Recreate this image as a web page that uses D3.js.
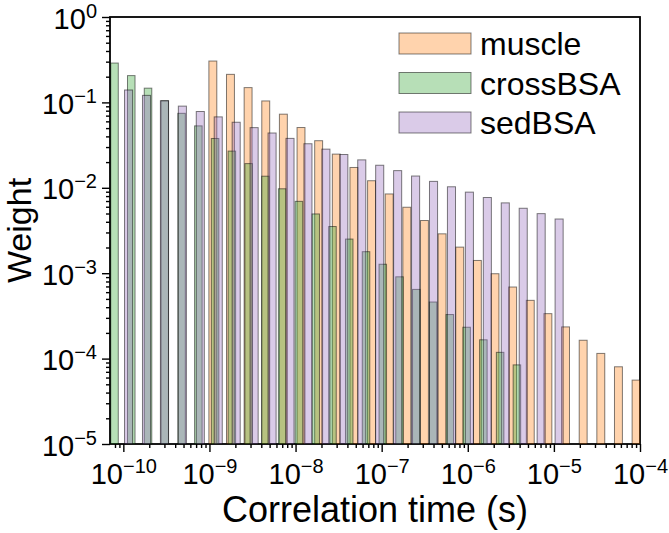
<!DOCTYPE html>
<html>
<head>
<meta charset="utf-8">
<script src="https://cdn.jsdelivr.net/npm/d3@7"></script>
<style>
  body { margin: 0; background: #fff; }
  text { font-family: "Liberation Sans", Arial, Helvetica, sans-serif; fill: #000; }
</style>
</head>
<body>
<div id="chart"></div>
<script>
// series as drawn, in legend order
const seriesNames = ['muscle', 'crossBSA', 'sedBSA']
const seriesColors = ['#ff7f0e', '#2ca02c', '#9467bd']

// correlation time (s) of each bar
const tauMuscle = [1.095e-9, 1.754e-9, 2.811e-9, 4.505e-9, 7.219e-9, 1.157e-8, 1.854e-8, 2.971e-8, 4.761e-8,
  7.629e-8, 1.223e-7, 1.959e-7, 3.139e-7, 5.031e-7, 8.062e-7, 1.292e-6, 2.070e-6, 3.318e-6, 5.317e-6,
  8.520e-6, 1.365e-5, 2.188e-5, 3.506e-5, 5.619e-5, 9.004e-5]
const tauCross = [7.90e-11, 1.236e-10, 1.935e-10, 3.03e-10, 4.745e-10, 7.43e-10, 1.163e-9, 1.821e-9, 2.852e-9,
  4.465e-9, 6.99e-9, 1.094e-8, 1.714e-8, 2.683e-8, 4.20e-8, 6.58e-8, 1.030e-7, 1.612e-7, 2.524e-7,
  3.952e-7, 6.19e-7, 9.69e-7, 1.517e-6, 2.375e-6, 3.72e-6]
const tauSed = [1.150e-10, 1.858e-10, 3.001e-10, 4.849e-10, 7.83e-10, 1.265e-9, 2.044e-9, 3.303e-9, 5.336e-9,
  8.62e-9, 1.393e-8, 2.250e-8, 3.635e-8, 5.873e-8, 9.488e-8, 1.533e-7, 2.477e-7, 4.001e-7, 6.465e-7,
  1.044e-6, 1.687e-6, 2.726e-6, 4.404e-6, 7.115e-6, 1.150e-5]

// weights
const wMuscle = [0.305, 0.213, 0.149, 0.104, 0.0728, 0.0508, 0.0356, 0.0248, 0.0173, 0.0121, 0.00847,
  0.00592, 0.00414, 0.00289, 0.00202, 0.00141, 0.000986, 0.000689, 0.000481, 0.000336, 0.000235,
  0.000164, 0.000115, 0.0000802, 0.0000560]
const wCross = [0.289, 0.206, 0.1468, 0.1046, 0.0745, 0.0531, 0.0378, 0.0269, 0.0192, 0.01367, 0.00974,
  0.00694, 0.00494, 0.00352, 0.00251, 0.001786, 0.001273, 0.000907, 0.000646, 0.000460, 0.000328,
  0.000233, 0.000166, 0.0001184, 0.0000844]
const wSed = [0.1397, 0.1209, 0.1045, 0.09046, 0.07823, 0.06767, 0.05856, 0.05065, 0.04382, 0.03790,
  0.03280, 0.02836, 0.02454, 0.02123, 0.01837, 0.01589, 0.01374, 0.01189, 0.01028, 0.008899, 0.007697,
  0.006659, 0.005760, 0.004983, 0.004311]

// axis ticks (decade exponents)
const xTickExps = [-10, -9, -8, -7, -6, -5, -4]
const yTickExps = [-5, -4, -3, -2, -1, 0]
const xLabel = 'Correlation time (s)'
const yLabel = 'Weight'

const width = 669, height = 533
const margin = { top: 17, right: 29, bottom: 89, left: 110 }
const plotW = width - margin.left - margin.right
const plotH = height - margin.top - margin.bottom

const svg = d3.select('#chart').append('svg')
  .attr('width', width)
  .attr('height', height)
  .attr('xmlns', 'http://www.w3.org/2000/svg')

const x = d3.scaleLog().domain([7.0e-11, 1e-4]).range([0, plotW])
const y = d3.scaleLog().domain([1e-5, 1]).range([plotH, 0])

const g = svg.append('g').attr('transform', `translate(${margin.left},${margin.top})`)

svg.append('clipPath').attr('id', 'plotclip')
  .append('rect').attr('width', plotW).attr('height', plotH)
  .attr('x', margin.left).attr('y', margin.top)

const series = [
  { tau: tauMuscle, w: wMuscle },
  { tau: tauCross, w: wCross },
  { tau: tauSed, w: wSed }
]

const barLayer = svg.append('g').attr('clip-path', 'url(#plotclip)')
  .append('g').attr('transform', `translate(${margin.left},${margin.top})`)

series.forEach(function (s, i) {
  const step = x(s.tau[1]) - x(s.tau[0])
  const bw = step * 0.45
  barLayer.append('g').selectAll('rect')
    .data(d3.zip(s.tau, s.w))
    .enter()
    .append('rect')
    .attr('x', d => x(d[0]) - bw / 2)
    .attr('y', d => y(d[1]))
    .attr('width', bw)
    .attr('height', d => plotH - y(d[1]))
    .style('fill', seriesColors[i])
    .style('fill-opacity', 0.34)
    .style('stroke', '#000')
    .style('stroke-opacity', 0.5)
    .style('stroke-width', 1)
})

// minor tick values for a log axis
function minors(domain) {
  const out = []
  const lo = Math.floor(Math.log10(domain[0])), hi = Math.ceil(Math.log10(domain[1]))
  for (let e = lo; e < hi; e++) {
    for (let m = 2; m <= 9; m++) {
      const v = m * Math.pow(10, e)
      if (v >= domain[0] && v <= domain[1]) out.push(v)
    }
  }
  return out
}

function supText(e) {
  return e < 0 ? '\u2212' + Math.abs(e) : String(e)
}

// x axis
const gxMinor = g.append('g').attr('transform', `translate(0,${plotH})`)
  .call(d3.axisBottom(x).tickValues(minors(x.domain())).tickSize(4).tickSizeOuter(0).tickFormat(''))
const gx = g.append('g').attr('transform', `translate(0,${plotH})`)
  .call(d3.axisBottom(x).tickValues(xTickExps.map(e => Math.pow(10, e))).tickSize(8).tickSizeOuter(0).tickFormat(''))

gx.selectAll('.tick text').each(function (d, i) {
  const t = d3.select(this)
  t.attr('y', 40).attr('dy', null).attr('text-anchor', 'middle').style('font-size', '29px')
  t.append('tspan').text('10')
  t.append('tspan').attr('dy', -11).style('font-size', '20px').text(supText(xTickExps[i]))
})

// y axis
const gyMinor = g.append('g')
  .call(d3.axisLeft(y).tickValues(minors(y.domain())).tickSize(4).tickSizeOuter(0).tickFormat(''))
const gy = g.append('g')
  .call(d3.axisLeft(y).tickValues(yTickExps.map(e => Math.pow(10, e))).tickSize(8).tickSizeOuter(0).tickFormat(''))

gy.selectAll('.tick text').each(function (d, i) {
  const t = d3.select(this)
  t.attr('x', -13).attr('y', 11).attr('dy', null).attr('text-anchor', 'end').style('font-size', '29px')
  t.append('tspan').text('10')
  t.append('tspan').attr('dy', -11).style('font-size', '20px').text(supText(yTickExps[i]))
})

;[gx, gxMinor, gy, gyMinor].forEach(function (a) {
  a.select('.domain').remove()
  a.selectAll('.tick line').style('stroke', '#000').style('stroke-width', 1.4)
})

// frame
g.append('rect')
  .attr('width', plotW)
  .attr('height', plotH)
  .style('fill', 'none')
  .style('stroke', '#000')
  .style('stroke-width', 1.8)

// axis labels
svg.append('text')
  .attr('x', margin.left + plotW / 2)
  .attr('y', 522)
  .attr('text-anchor', 'middle')
  .style('font-size', '36px')
  .text(xLabel)

svg.append('text')
  .attr('transform', `translate(31,${margin.top + plotH / 2}) rotate(-90)`)
  .attr('text-anchor', 'middle')
  .style('font-size', '34px')
  .text(yLabel)

// legend
const legend = svg.append('g').attr('transform', 'translate(399,33)')
seriesNames.forEach(function (name, i) {
  const row = legend.append('g').attr('transform', `translate(0,${i * 39.5})`)
  row.append('rect')
    .attr('width', 72)
    .attr('height', 21)
    .style('fill', seriesColors[i])
    .style('fill-opacity', 0.34)
    .style('stroke', '#000')
    .style('stroke-opacity', 0.5)
    .style('stroke-width', 1)
  row.append('text')
    .attr('x', 81)
    .attr('y', 22)
    .style('font-size', '32px')
    .text(name)
})
</script>
</body>
</html>
